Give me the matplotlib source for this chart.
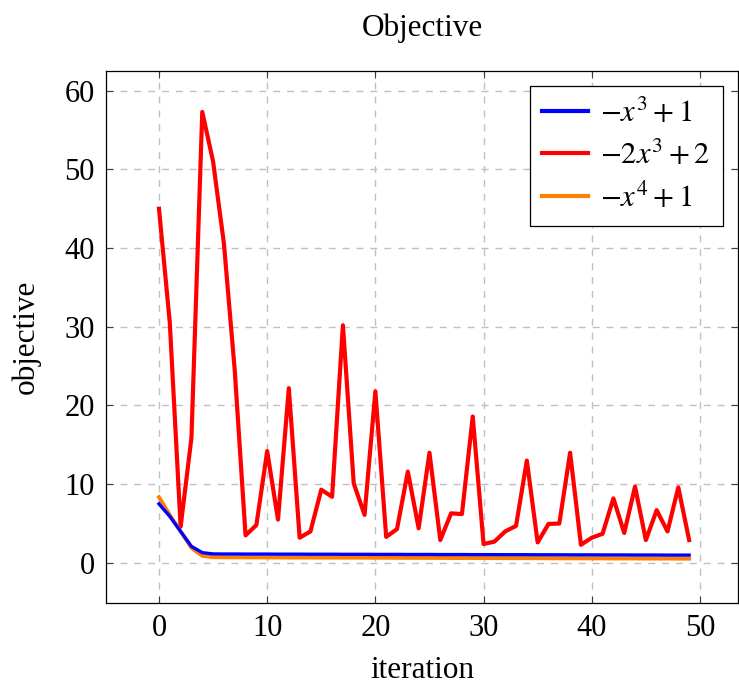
import numpy as np
import matplotlib
matplotlib.use("Agg")
import matplotlib.pyplot as plt

plt.rcParams['font.family'] = ['Liberation Serif', 'DejaVu Serif']
plt.rcParams['mathtext.fontset'] = 'stix'

iterations = list(range(50))

obj_cubic = [7.5, 5.9, 4.0, 2.1, 1.3, 1.14, 1.13, 1.13, 1.12, 1.12,
             1.12, 1.11, 1.11, 1.11, 1.10, 1.10, 1.10, 1.09, 1.09, 1.09,
             1.08, 1.08, 1.08, 1.07, 1.07, 1.07, 1.06, 1.06, 1.06, 1.05,
             1.05, 1.05, 1.04, 1.04, 1.04, 1.03, 1.03, 1.03, 1.02, 1.02,
             1.02, 1.01, 1.01, 1.01, 1.00, 1.00, 1.00, 0.99, 0.99, 0.99]

obj_double_cubic = [45.0, 30.5, 4.6, 15.9, 57.3, 51.0, 40.6, 24.5, 3.5, 4.8,
                    14.2, 5.5, 22.2, 3.2, 4.0, 9.3, 8.4, 30.2, 10.1, 6.1,
                    21.8, 3.3, 4.3, 11.6, 4.4, 14.0, 2.9, 6.3, 6.2, 18.6,
                    2.4, 2.7, 4.0, 4.7, 13.0, 2.6, 4.95, 5.0, 14.0, 2.3,
                    3.2, 3.7, 8.2, 3.8, 9.7, 2.9, 6.7, 4.0, 9.6, 2.9]

obj_quartic = [8.35, 6.1, 4.0, 1.9, 0.9, 0.72, 0.71, 0.71, 0.70, 0.70,
               0.69, 0.69, 0.68, 0.68, 0.68, 0.67, 0.67, 0.66, 0.66, 0.66,
               0.65, 0.65, 0.64, 0.64, 0.64, 0.63, 0.63, 0.62, 0.62, 0.62,
               0.61, 0.61, 0.60, 0.60, 0.60, 0.59, 0.59, 0.58, 0.58, 0.58,
               0.57, 0.57, 0.56, 0.56, 0.56, 0.55, 0.55, 0.55, 0.54, 0.54]

series_labels = [r'$-x^3+1$', r'$-2x^3+2$', r'$-x^4+1$']

fig = plt.figure(figsize=(7.39, 6.88), dpi=100)
ax = fig.add_axes([0.1434, 0.1235, 0.855, 0.7733])

ax.plot(iterations, obj_cubic, color='#0000ff', lw=2.4, label=series_labels[0], zorder=3)
ax.plot(iterations, obj_double_cubic, color='#ff0000', lw=3.0, label=series_labels[1], zorder=2)
ax.plot(iterations, obj_quartic, color='#ff8000', lw=2.8, label=series_labels[2], zorder=2.5)

ax.set_xlim(-4.9, 53.5)
ax.set_ylim(-5.1, 62.5)
ax.set_xticks([0, 10, 20, 30, 40, 50])
ax.set_yticks([0, 10, 20, 30, 40, 50, 60])

ax.grid(True, color='#c0c0c0', linestyle=(0, (5, 5)), linewidth=1.0)
ax.set_axisbelow(True)
ax.tick_params(direction='in', top=True, right=True, length=5, width=0.8,
               labelsize=22, color='#404040', pad=8)
for s in ax.spines.values():
    s.set_linewidth(0.9)

ax.set_title('Objective', fontsize=22.5, pad=25)
ax.set_xlabel('iteration', fontsize=22.5, labelpad=9)
ax.set_ylabel('objective', fontsize=22.5, labelpad=17)

leg = ax.legend(loc='upper right', fontsize=22, frameon=True, fancybox=False,
                edgecolor='black', framealpha=1, handlelength=1.5,
                borderaxespad=0.5, borderpad=0.4, labelspacing=0.38,
                handletextpad=0.4)
leg.get_frame().set_linewidth(0.9)
for line in leg.get_lines():
    line.set_linewidth(3.0)

fig.savefig('out.png', dpi=100)
